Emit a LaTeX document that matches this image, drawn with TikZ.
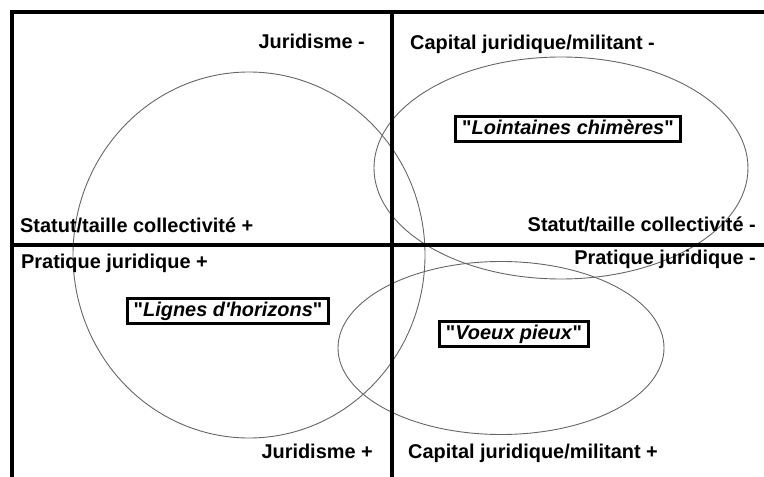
\documentclass[tikz,border=0pt]{standalone}
\usepackage{fontspec}
\newfontfamily\lab{Liberation Sans}
\usetikzlibrary{shapes.geometric}
\begin{document}
\begin{tikzpicture}[x=1bp,y=-1bp,
  axisline/.style={line width=4.6bp},
  zone/.style={draw=black!60, line width=0.9bp, ellipse, inner sep=0pt},
  lbl/.style={font=\lab\bfseries\fontsize{20}{24}\selectfont, inner sep=0pt},
  tag/.style={draw, line width=3bp, fill=white, inner xsep=6.5bp, inner ysep=3bp,
    text height=15bp, text depth=4bp, font=\lab\bfseries\fontsize{20}{24}\selectfont},
]
\useasboundingbox (0,0) rectangle (764,477);
% frame coordinates
\coordinate (tl) at (9.7,12);
\coordinate (tr) at (770,12);
\coordinate (lt) at (12,9.7);
\coordinate (lb) at (12,480);
\coordinate (vt) at (392,12);
\coordinate (vb) at (392,480);
\coordinate (hl) at (12,245);
\coordinate (hr) at (770,245);
% ellipses
\node[zone, minimum width=352bp, minimum height=366bp] (ezl) at (249,255) {};
\node[zone, minimum width=374bp, minimum height=222bp] (ezu) at (561,168) {};
\node[zone, minimum width=326bp, minimum height=173bp] (ezr) at (501,348) {};
% axes
\draw[axisline] (tl) -- (tr);
\draw[axisline] (lt) -- (lb);
\draw[axisline] (vt) -- (vb);
\draw[axisline] (hl) -- (hr);
% labels
\node[lbl, anchor=base east] (jm) at (365,49) {Juridisme -};
\node[lbl, anchor=base west] (cm) at (410,50) {Capital juridique/militant -};
\node[lbl, anchor=base west] (sp) at (20,233) {Statut/taille collectivité +};
\node[lbl, anchor=base west] (pp) at (21,269) {Pratique juridique +};
\node[lbl, anchor=base east] (sm) at (756,232) {Statut/taille collectivité -};
\node[lbl, anchor=base east] (pm) at (756,265) {Pratique juridique -};
\node[lbl, anchor=base east] (jp) at (373,458) {Juridisme +};
\node[lbl, anchor=base west] (cp) at (408,458) {Capital juridique/militant +};
% boxes
\node[tag] (lc) at (568,129) {"\textit{Lointaines chimères}"};
\node[tag] (lh) at (228,311) {"\textit{Lignes d'horizons}"};
\node[tag] (vp) at (514,334) {"\textit{Voeux pieux}"};
\end{tikzpicture}
\end{document}
